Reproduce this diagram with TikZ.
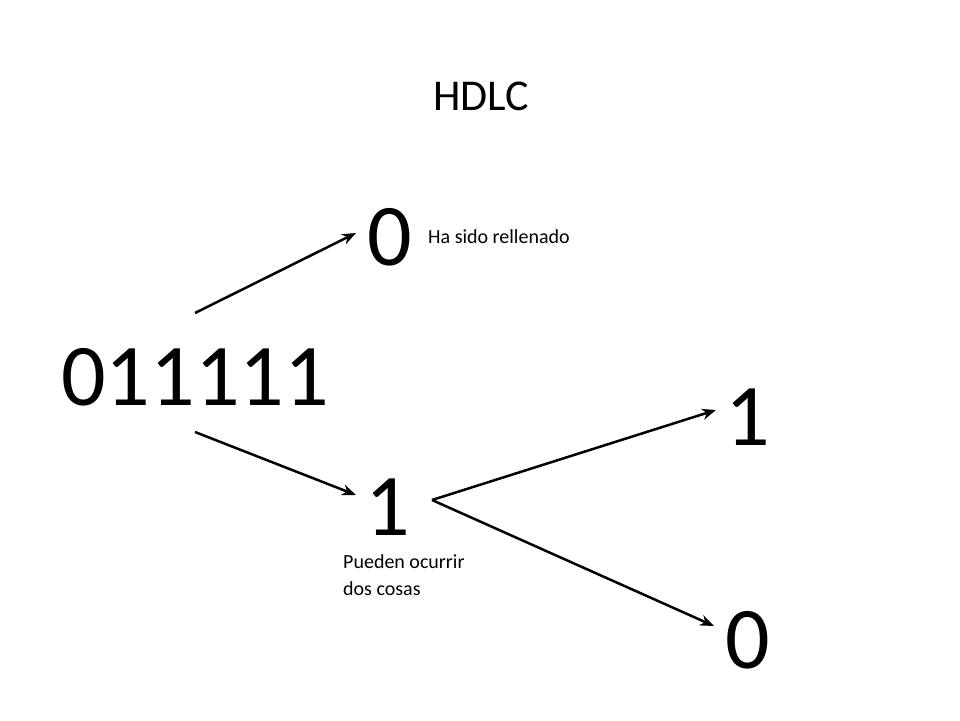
\documentclass[tikz,border=0pt]{standalone}
\usepackage{fontspec}
\setmainfont{Carlito}
\usetikzlibrary{arrows.meta}
\begin{document}
\begin{tikzpicture}[x=1pt,y=-1pt,
  big/.style={font=\fontsize{88}{88}\selectfont,anchor=base,inner sep=0pt},
  small/.style={font=\fontsize{20}{27}\selectfont,anchor=base west,inner sep=0pt,align=left},
  arr/.style={-{Stealth[length=14pt,width=11pt]},line width=2.5pt}]
\useasboundingbox (0,0) rectangle (960,720);
\node[font=\fontsize{44}{44}\selectfont,anchor=base,inner sep=0pt] (title) at (481,110) {HDLC};
\node[big] (src) at (195,405) {011111};
\node[big] (z1) at (390,265) {0};
\node[big] (o1) at (388,535) {1};
\node[big] (o2) at (748,445) {1};
\node[big] (z2) at (748,668) {0};
\node[small] (l1) at (428,243) {Ha sido rellenado};
\node[small] (l2) at (343,595) {Pueden ocurrir\\dos cosas};
\coordinate (s1) at (195,313);
\coordinate (s2) at (195,432);
\coordinate (e1) at (356,233);
\coordinate (e2) at (356,495);
\coordinate (m) at (432,500);
\coordinate (e3) at (716,410);
\coordinate (e4) at (714,626);
\draw[arr] (s1) -- (e1);
\draw[arr] (s2) -- (e2);
\draw[arr] (m) -- (e3);
\draw[arr] (m) -- (e4);
\end{tikzpicture}
\end{document}
